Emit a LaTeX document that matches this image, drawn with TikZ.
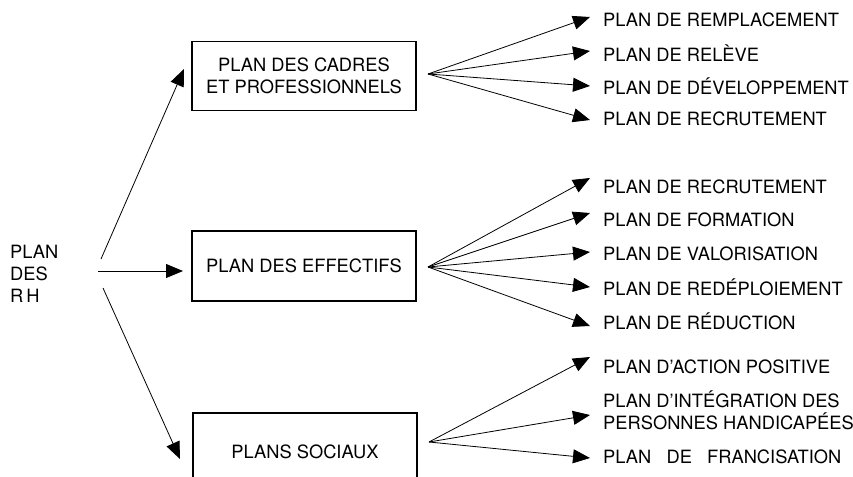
\documentclass[tikz,border=0pt]{standalone}
\usepackage{fontspec}
\setmainfont{TeX Gyre Heros}
\usetikzlibrary{arrows.meta}

\newcommand{\planfont}{\fontsize{18.3}{22}\selectfont}

\tikzset{
  planbox/.style={draw, line width=1.5pt, minimum width=224pt, align=center,
    font=\planfont, inner sep=0pt},
  planlabel/.style={anchor=west, font=\planfont, inner sep=0pt},
  planarrow/.style={-{Triangle[length=17pt,width=14pt]}, line width=0.8pt}
}

\begin{document}
\begin{tikzpicture}[x=1pt,y=-1pt]
\useasboundingbox (0,0) rectangle (853,476);
\clip (0,0) rectangle (853,476);

\node[planlabel, align=left] (rh) at (10,274) {PLAN\\DES\\R\,H};

\node[planbox, minimum height=69pt] (cadres) at (304,76) {PLAN DES CADRES\\ET PROFESSIONNELS};
\node[planbox, minimum height=70pt] (effectifs) at (304,266) {PLAN DES EFFECTIFS};
\node[planbox, minimum height=78pt] (sociaux) at (305,452) {PLANS SOCIAUX};

% from PLAN DES RH
\coordinate (rhup) at (101,259);
\coordinate (rhmid) at (98,271);
\coordinate (rhdown) at (103,288);
\coordinate (cadresin) at (184,69);
\coordinate (effectifsin) at (183,271);
\coordinate (sociauxin) at (180,459);
\draw[planarrow] (rhup) -- (cadresin);
\draw[planarrow] (rhmid) -- (effectifsin);
\draw[planarrow] (rhdown) -- (sociauxin);

% plan des cadres et professionnels
\node[planlabel] (remplacement) at (603,20) {PLAN DE REMPLACEMENT};
\node[planlabel] (releve) at (603,53) {PLAN DE RELÈVE};
\node[planlabel] (developpement) at (603,86) {PLAN DE DÉVELOPPEMENT};
\node[planlabel] (recrutementa) at (603,119) {PLAN DE RECRUTEMENT};
\coordinate (cadresout) at (428,74);
\draw[planarrow] (cadresout) -- ([xshift=-13pt,yshift=3pt]remplacement.west);
\draw[planarrow] (cadresout) -- ([xshift=-13pt,yshift=2pt]releve.west);
\draw[planarrow] (cadresout) -- ([xshift=-13pt]developpement.west);
\draw[planarrow] (cadresout) -- ([xshift=-13pt,yshift=-1pt]recrutementa.west);

% plan des effectifs
\node[planlabel] (recrutementb) at (603,187) {PLAN DE RECRUTEMENT};
\node[planlabel] (formation) at (603,220) {PLAN DE FORMATION};
\node[planlabel] (valorisation) at (603,254) {PLAN DE VALORISATION};
\node[planlabel] (redeploiement) at (603,287) {PLAN DE REDÉPLOIEMENT};
\node[planlabel] (reduction) at (603,321) {PLAN DE RÉDUCTION};
\coordinate (effectifsout) at (428,267);
\draw[planarrow] (effectifsout) -- ([xshift=-13pt,yshift=9pt]recrutementb.west);
\draw[planarrow] (effectifsout) -- ([xshift=-13pt,yshift=7pt]formation.west);
\draw[planarrow] (effectifsout) -- ([xshift=-13pt,yshift=2pt]valorisation.west);
\draw[planarrow] (effectifsout) -- ([xshift=-13pt]redeploiement.west);
\draw[planarrow] (effectifsout) -- ([xshift=-13pt,yshift=-5pt]reduction.west);

% plans sociaux
\node[planlabel] (action) at (603,367) {PLAN D'ACTION POSITIVE};
\node[planlabel, align=left] (integration) at (603,410) {PLAN D'INTÉGRATION DES\\PERSONNES HANDICAPÉES};
\node[planlabel] (francisation) at (603,457) {PLAN\ \ \ DE\ \ \ FRANCISATION};
\coordinate (sociauxout) at (429,442);
\draw[planarrow] (sociauxout) -- ([xshift=-13pt,yshift=10pt]action.west);
\draw[planarrow] (sociauxout) -- ([xshift=-13pt,yshift=-5pt]integration.west);
\draw[planarrow] (sociauxout) -- ([xshift=-13pt,yshift=-1pt]francisation.west);

\end{tikzpicture}
\end{document}
